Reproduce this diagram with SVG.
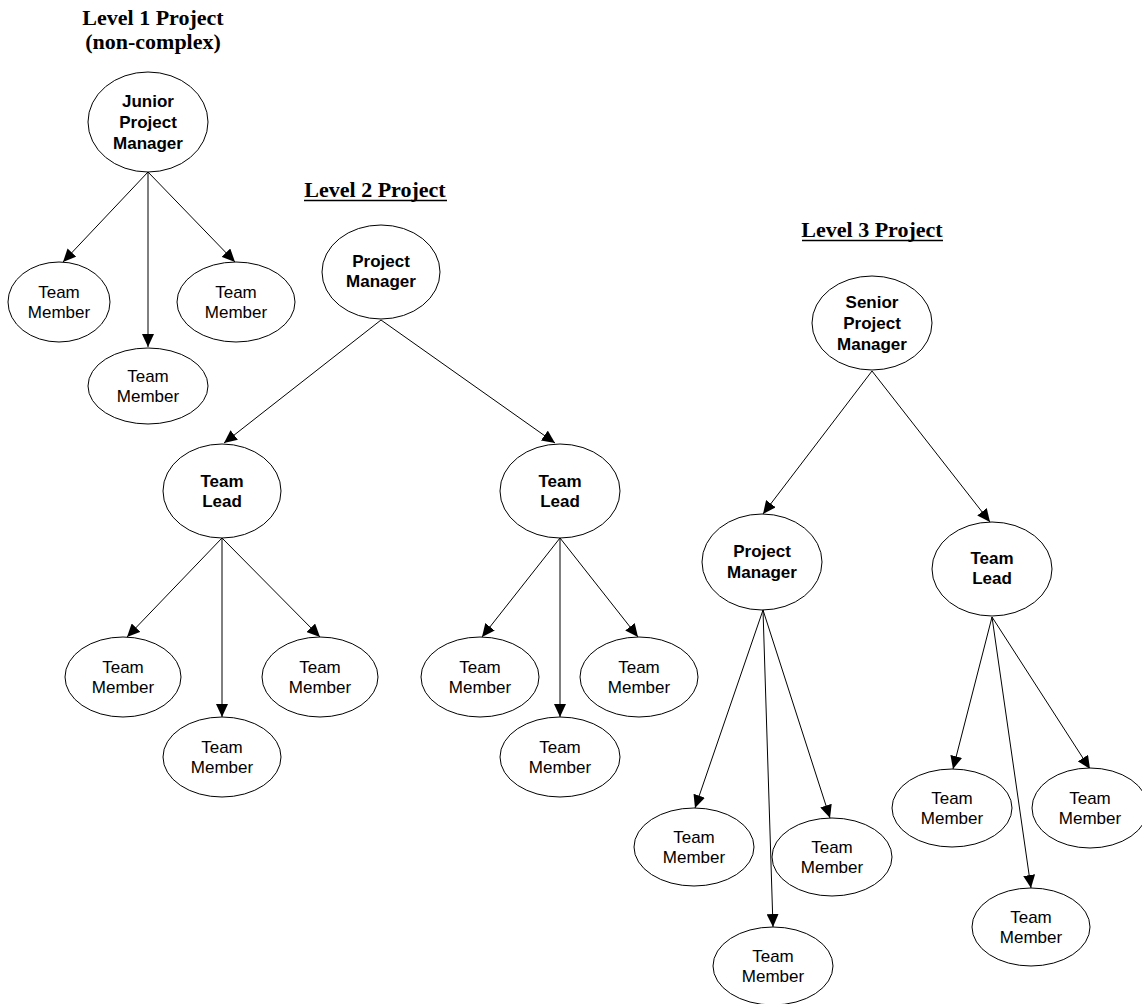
<svg xmlns="http://www.w3.org/2000/svg" width="1142" height="1004" viewBox="0 0 1142 1004">
<style>
.node{fill:#fff;stroke:#000;stroke-width:1}
.t{font-family:"Liberation Sans",Arial,sans-serif;font-size:17px;text-anchor:middle;fill:#000}
.b{font-weight:bold}
.title{font-family:"Liberation Serif","Times New Roman",serif;font-size:22px;font-weight:bold;text-anchor:middle;fill:#000}
.ul{stroke:#000;stroke-width:1.5}
.edge{stroke:#000;stroke-width:1;fill:none;marker-end:url(#arr)}
</style>
<defs>
<marker id="arr" markerUnits="userSpaceOnUse" markerWidth="13" markerHeight="12" refX="13" refY="6" orient="auto">
<path d="M0,0 L13,6 L0,12 z" fill="#000"/>
</marker>
</defs>
<rect width="1142" height="1004" fill="#fff"/>
<g id="titles">
<text class="title" x="153" y="25">Level 1 Project</text>
<text class="title" x="153" y="49">(non-complex)</text>
<text class="title" x="375" y="197">Level 2 Project</text>
<line class="ul" x1="304" y1="200.5" x2="447" y2="200.5"/>
<text class="title" x="872" y="237">Level 3 Project</text>
<line class="ul" x1="802" y1="240.5" x2="943" y2="240.5"/>
</g>
<g id="connectors">
<line class="edge" x1="148" y1="172" x2="63" y2="262"/>
<line class="edge" x1="148" y1="172" x2="148" y2="347"/>
<line class="edge" x1="148" y1="172" x2="235" y2="262"/>
<line class="edge" x1="381" y1="320" x2="224" y2="443"/>
<line class="edge" x1="381" y1="320" x2="555" y2="443"/>
<line class="edge" x1="222" y1="538" x2="127" y2="637"/>
<line class="edge" x1="222" y1="538" x2="222" y2="717"/>
<line class="edge" x1="222" y1="538" x2="320" y2="637"/>
<line class="edge" x1="560" y1="538" x2="482" y2="637"/>
<line class="edge" x1="560" y1="538" x2="560" y2="717"/>
<line class="edge" x1="560" y1="538" x2="638" y2="637"/>
<line class="edge" x1="872" y1="371" x2="763" y2="514"/>
<line class="edge" x1="872" y1="371" x2="990" y2="522"/>
<line class="edge" x1="763" y1="610" x2="695" y2="808"/>
<line class="edge" x1="763" y1="610" x2="773" y2="927"/>
<line class="edge" x1="763" y1="610" x2="830" y2="818"/>
<line class="edge" x1="992" y1="617" x2="953" y2="769"/>
<line class="edge" x1="992" y1="617" x2="1031" y2="888"/>
<line class="edge" x1="992" y1="617" x2="1090" y2="769"/>
</g>
<g id="n_l1_jpm"><ellipse class="node" cx="148" cy="122" rx="60" ry="50"/><text class="t b" x="148" y="107">Junior</text><text class="t b" x="148" y="128">Project</text><text class="t b" x="148" y="149">Manager</text></g>
<g id="n_l1_tm1"><ellipse class="node" cx="59" cy="302" rx="51" ry="40"/><text class="t" x="59" y="298">Team</text><text class="t" x="59" y="318">Member</text></g>
<g id="n_l1_tm2"><ellipse class="node" cx="148" cy="386" rx="60" ry="38"/><text class="t" x="148" y="382">Team</text><text class="t" x="148" y="402">Member</text></g>
<g id="n_l1_tm3"><ellipse class="node" cx="236" cy="302" rx="59" ry="40"/><text class="t" x="236" y="298">Team</text><text class="t" x="236" y="318">Member</text></g>
<g id="n_l2_pm"><ellipse class="node" cx="381" cy="272" rx="59" ry="47"/><text class="t b" x="381" y="267">Project</text><text class="t b" x="381" y="287">Manager</text></g>
<g id="n_l2_tl1"><ellipse class="node" cx="222" cy="491" rx="59" ry="47"/><text class="t b" x="222" y="487">Team</text><text class="t b" x="222" y="507">Lead</text></g>
<g id="n_l2_tl2"><ellipse class="node" cx="560" cy="491" rx="60" ry="47"/><text class="t b" x="560" y="487">Team</text><text class="t b" x="560" y="507">Lead</text></g>
<g id="n_l2_tm1"><ellipse class="node" cx="123" cy="677" rx="58" ry="40"/><text class="t" x="123" y="673">Team</text><text class="t" x="123" y="693">Member</text></g>
<g id="n_l2_tm2"><ellipse class="node" cx="222" cy="757" rx="59" ry="40"/><text class="t" x="222" y="753">Team</text><text class="t" x="222" y="773">Member</text></g>
<g id="n_l2_tm3"><ellipse class="node" cx="320" cy="677" rx="58" ry="40"/><text class="t" x="320" y="673">Team</text><text class="t" x="320" y="693">Member</text></g>
<g id="n_l2_tm4"><ellipse class="node" cx="480" cy="677" rx="59" ry="40"/><text class="t" x="480" y="673">Team</text><text class="t" x="480" y="693">Member</text></g>
<g id="n_l2_tm5"><ellipse class="node" cx="560" cy="757" rx="60" ry="40"/><text class="t" x="560" y="753">Team</text><text class="t" x="560" y="773">Member</text></g>
<g id="n_l2_tm6"><ellipse class="node" cx="639" cy="677" rx="59" ry="40"/><text class="t" x="639" y="673">Team</text><text class="t" x="639" y="693">Member</text></g>
<g id="n_l3_spm"><ellipse class="node" cx="872" cy="323" rx="60" ry="47"/><text class="t b" x="872" y="308">Senior</text><text class="t b" x="872" y="329">Project</text><text class="t b" x="872" y="350">Manager</text></g>
<g id="n_l3_pm"><ellipse class="node" cx="762" cy="562" rx="60" ry="48"/><text class="t b" x="762" y="557">Project</text><text class="t b" x="762" y="578">Manager</text></g>
<g id="n_l3_tl"><ellipse class="node" cx="992" cy="569" rx="60" ry="47"/><text class="t b" x="992" y="564">Team</text><text class="t b" x="992" y="584">Lead</text></g>
<g id="n_l3_tm1"><ellipse class="node" cx="694" cy="847" rx="60" ry="39"/><text class="t" x="694" y="843">Team</text><text class="t" x="694" y="863">Member</text></g>
<g id="n_l3_tm2"><ellipse class="node" cx="773" cy="966" rx="60" ry="39"/><text class="t" x="773" y="962">Team</text><text class="t" x="773" y="982">Member</text></g>
<g id="n_l3_tm3"><ellipse class="node" cx="832" cy="857" rx="60" ry="39"/><text class="t" x="832" y="853">Team</text><text class="t" x="832" y="873">Member</text></g>
<g id="n_l3_tm4"><ellipse class="node" cx="952" cy="808" rx="60" ry="39"/><text class="t" x="952" y="804">Team</text><text class="t" x="952" y="824">Member</text></g>
<g id="n_l3_tm5"><ellipse class="node" cx="1031" cy="927" rx="59" ry="39"/><text class="t" x="1031" y="923">Team</text><text class="t" x="1031" y="943">Member</text></g>
<g id="n_l3_tm6"><ellipse class="node" cx="1090" cy="808" rx="58" ry="40"/><text class="t" x="1090" y="804">Team</text><text class="t" x="1090" y="824">Member</text></g>
</svg>
